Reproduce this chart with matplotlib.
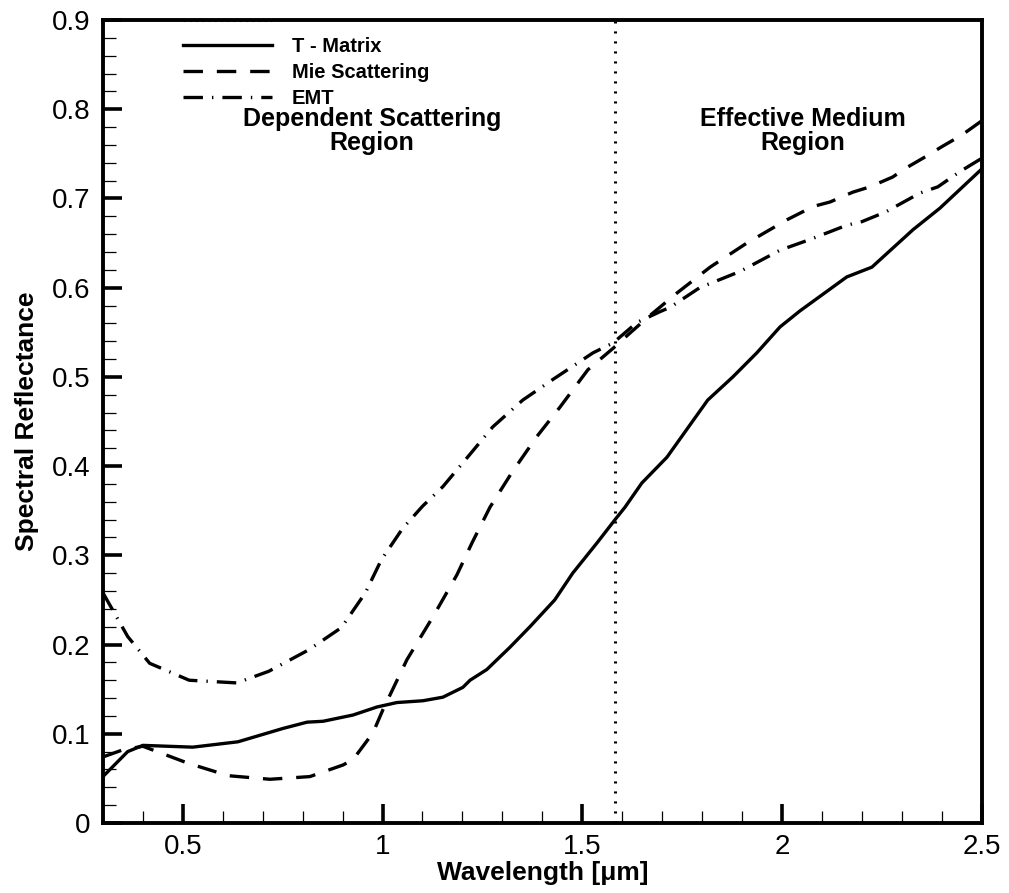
import numpy as np
import matplotlib
matplotlib.use("Agg")
import matplotlib.pyplot as plt
from matplotlib.ticker import MultipleLocator

plt.rcParams['font.family'] = ['Liberation Sans', 'DejaVu Sans']
plt.rcParams['lines.scale_dashes'] = False

# T-Matrix (solid)
tm_x = [0.300, 0.362, 0.400, 0.525, 0.638, 0.751, 0.811, 0.851, 0.926, 0.986,
        1.036, 1.101, 1.151, 1.201, 1.219, 1.261, 1.319, 1.369, 1.431, 1.476,
        1.537, 1.582, 1.607, 1.649, 1.712, 1.814, 1.877, 1.937, 1.995, 2.045,
        2.162, 2.225, 2.328, 2.395, 2.500]
tm_y = [0.052, 0.080, 0.087, 0.085, 0.091, 0.106, 0.113, 0.114, 0.121, 0.130,
        0.135, 0.137, 0.141, 0.152, 0.160, 0.172, 0.197, 0.220, 0.250, 0.280,
        0.314, 0.340, 0.354, 0.381, 0.410, 0.474, 0.500, 0.527, 0.556, 0.574,
        0.612, 0.623, 0.665, 0.689, 0.733]

# Mie scattering (dashed)
mie_x = [0.300, 0.350, 0.400, 0.513, 0.614, 0.718, 0.818, 0.901, 0.926, 0.976,
         1.001, 1.061, 1.126, 1.186, 1.224, 1.269, 1.324, 1.386, 1.444, 1.514,
         1.577, 1.614, 1.662, 1.737, 1.820, 1.912, 2.012, 2.078, 2.120, 2.177,
         2.220, 2.277, 2.310, 2.360, 2.400, 2.450, 2.500]
mie_y = [0.074, 0.082, 0.086, 0.067, 0.053, 0.049, 0.052, 0.065, 0.071, 0.101,
         0.127, 0.183, 0.231, 0.278, 0.314, 0.354, 0.393, 0.433, 0.466, 0.508,
         0.532, 0.547, 0.566, 0.594, 0.623, 0.650, 0.676, 0.691, 0.696, 0.707,
         0.713, 0.724, 0.734, 0.747, 0.758, 0.771, 0.787]

# EMT (dash-dot)
emt_x = [0.300, 0.362, 0.417, 0.516, 0.635, 0.715, 0.815, 0.897, 0.957, 0.997,
         1.050, 1.100, 1.151, 1.211, 1.276, 1.351, 1.426, 1.527, 1.577, 1.637,
         1.694, 1.720, 1.794, 1.894, 1.995, 2.070, 2.162, 2.200, 2.260, 2.345,
         2.390, 2.445, 2.500]
emt_y = [0.258, 0.209, 0.179, 0.160, 0.157, 0.170, 0.194, 0.219, 0.258, 0.295,
         0.330, 0.355, 0.377, 0.409, 0.444, 0.474, 0.497, 0.527, 0.538, 0.561,
         0.573, 0.578, 0.600, 0.618, 0.642, 0.654, 0.670, 0.674, 0.685, 0.706,
         0.713, 0.730, 0.745]

boundary = 1.582

fig = plt.figure(figsize=(10.09, 8.93), dpi=100)
ax = fig.add_axes([0.102, 0.0784, 0.871, 0.8992])

lw = 2.4
ax.plot(tm_x, tm_y, color='black', lw=lw, ls='-', label='T - Matrix')
ax.plot(mie_x, mie_y, color='black', lw=lw, dashes=(14, 10), label='Mie Scattering')
ax.plot(emt_x, emt_y, color='black', lw=lw, dashes=(14, 6.5, 1, 6.5), label='EMT')
ax.axvline(boundary, color='black', lw=2.2, dashes=(1.5, 5.7))
# dotted legend entry hidden behind the top frame
ax.plot([0.091, 0.192], [1.0, 1.0], transform=ax.transAxes, color='black',
        lw=2.2, dashes=(1.5, 3.0), clip_on=True)

ax.set_xlim(0.3, 2.5)
ax.set_ylim(0, 0.9)
ax.xaxis.set_major_locator(MultipleLocator(0.5))
ax.xaxis.set_minor_locator(MultipleLocator(0.1))
ax.yaxis.set_major_locator(MultipleLocator(0.1))
ax.yaxis.set_minor_locator(MultipleLocator(0.02))

def fmt(v, pos):
    s = ('%.1f' % v).rstrip('0').rstrip('.')
    return s if s else '0'

ax.xaxis.set_major_formatter(plt.FuncFormatter(fmt))
ax.yaxis.set_major_formatter(plt.FuncFormatter(fmt))

ax.tick_params(which='major', direction='in', length=14, width=2.6, labelsize=20)
ax.tick_params(which='minor', direction='in', length=9, width=0.9)
ax.tick_params(axis='x', which='major', pad=8)
ax.tick_params(axis='y', which='major', pad=9)
for sp in ax.spines.values():
    sp.set_linewidth(2.8)

ax.set_xlabel('Wavelength [\u03bcm]', fontsize=19, fontweight='bold', labelpad=1)
ax.set_ylabel('Spectral Reflectance', fontsize=19, fontweight='bold', labelpad=9)

ax.text(0.973, 0.776, 'Dependent Scattering\nRegion', ha='center', va='center',
        fontsize=18, fontweight='bold', linespacing=1.0)
ax.text(2.052, 0.776, 'Effective Medium\nRegion', ha='center', va='center',
        fontsize=18, fontweight='bold', linespacing=1.0)

ax.legend(loc='upper left', bbox_to_anchor=(0.091, 0.979), frameon=False,
          prop={'size': 14.5, 'weight': 'bold'}, handlelength=4.4,
          handletextpad=1.0, labelspacing=0.36, borderpad=0, borderaxespad=0)

fig.savefig('out.png', dpi=100)
